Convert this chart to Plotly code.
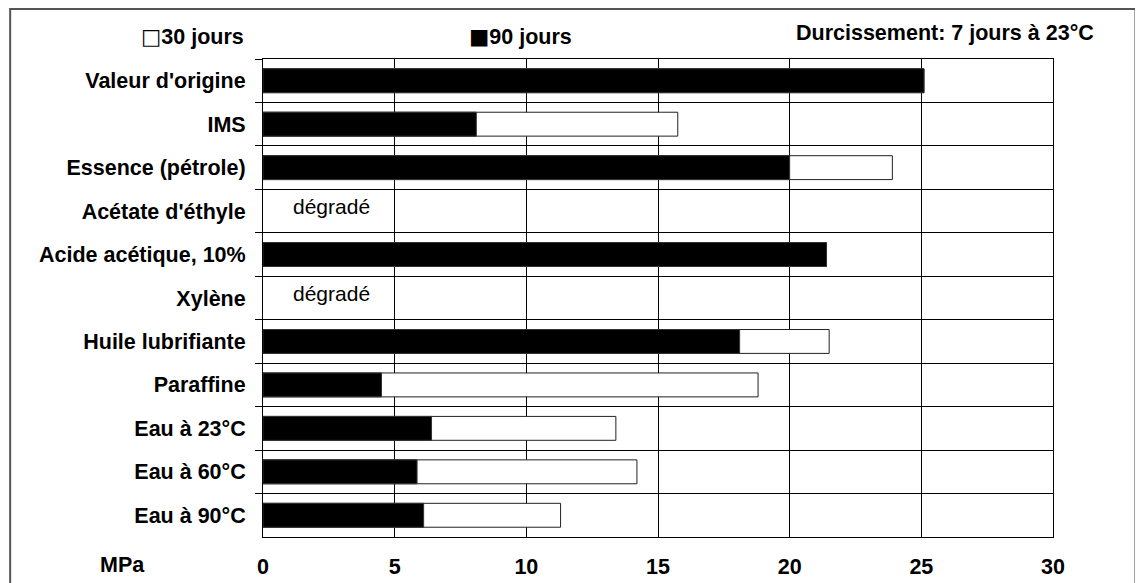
import plotly.graph_objects as go

categories = ["Valeur d'origine", "IMS", "Essence (pétrole)", "Acétate d'éthyle",
              "Acide acétique, 10%", "Xylène", "Huile lubrifiante", "Paraffine",
              "Eau à 23°C", "Eau à 60°C", "Eau à 90°C"]
jours_30 = [25.1, 15.75, 23.9, None, 21.4, None, 21.5, 18.8, 13.4, 14.2, 11.3]
jours_90 = [25.1, 8.1, 20.0, None, 21.4, None, 18.1, 4.5, 6.4, 5.85, 6.1]
degraded = ["Acétate d'éthyle", "Xylène"]
x_ticks = [0, 5, 10, 15, 20, 25, 30]

FONT = "Liberation Sans, Arial, sans-serif"
FS = 21.5
OFF = 8  # page offset of the figure inside the browser window

fig = go.Figure()
fig.add_trace(go.Bar(y=categories, x=jours_30, orientation="h", name="30 jours",
                     marker=dict(color="white", line=dict(color="#222", width=1)),
                     width=0.55))
fig.add_trace(go.Bar(y=categories, x=jours_90, orientation="h", name="90 jours",
                     marker=dict(color="black", line=dict(color="#333", width=1)),
                     width=0.55))

for c in degraded:
    fig.add_annotation(x=2.6, y=c, xref="x", yref="y", text="dégradé", showarrow=False,
                       yshift=5, font=dict(family=FONT, size=21, color="black"))

W, H = 1143 - OFF, 583 - OFF
L, T = 263 - OFF, 59 - OFF
R = W - (1053.5 - OFF)
B = H - (537 - OFF)
pw, ph = W - L - R, H - T - B

def px(x):
    return (x - OFF - L) / pw

def py(y):
    return (H - B - (y - OFF)) / ph

SQ = "<span style='font-family:DejaVu Sans'>{}</span>"
fig.add_annotation(x=px(246), y=py(36), xref="paper", yref="paper", xanchor="right",
                   yanchor="middle", text=SQ.format("□") + "30 jours", showarrow=False,
                   font=dict(family=FONT, size=FS, color="black", weight="bold"))
fig.add_annotation(x=px(467), y=py(36), xref="paper", yref="paper", xanchor="left",
                   yanchor="middle", text=SQ.format("■") + "90 jours", showarrow=False,
                   font=dict(family=FONT, size=FS, color="black", weight="bold"))
fig.add_annotation(x=px(1097), y=py(33), xref="paper", yref="paper", xanchor="right",
                   yanchor="middle", text="Durcissement: 7 jours à 23°C", showarrow=False,
                   font=dict(family=FONT, size=FS, color="black", weight="bold"))
fig.add_annotation(x=px(122), y=py(565), xref="paper", yref="paper", xanchor="center",
                   yanchor="middle", text="MPa", showarrow=False,
                   font=dict(family=FONT, size=FS, color="black", weight="bold"))

fig.add_shape(type="rect", xref="paper", yref="paper", x0=px(10), x1=px(1136),
              y0=py(600), y1=py(9), line=dict(color="#555", width=2), layer="below")

fig.update_layout(
    width=W, height=H, barmode="overlay", showlegend=False,
    margin=dict(l=L, r=R, t=T, b=B, autoexpand=False),
    paper_bgcolor="white", plot_bgcolor="white",
    font=dict(family=FONT, size=FS, color="black"),
)
fig.update_xaxes(range=[0, 30], tickvals=x_ticks, showgrid=True, gridcolor="black",
                 gridwidth=1, zeroline=False, showline=True, linecolor="black",
                 mirror=True, ticks="", ticklabelstandoff=10, automargin=False,
                 tickfont=dict(family=FONT, size=FS, weight="bold"))
fig.update_yaxes(categoryorder="array", categoryarray=categories, autorange="reversed",
                 tickson="boundaries", ticks="outside", ticklen=7, tickcolor="black",
                 showgrid=True, gridcolor="black", gridwidth=1, showline=True,
                 linecolor="black", mirror=True, ticklabelstandoff=12, automargin=False,
                 tickfont=dict(family=FONT, size=FS, weight="bold"))

fig.write_html("out.html")
